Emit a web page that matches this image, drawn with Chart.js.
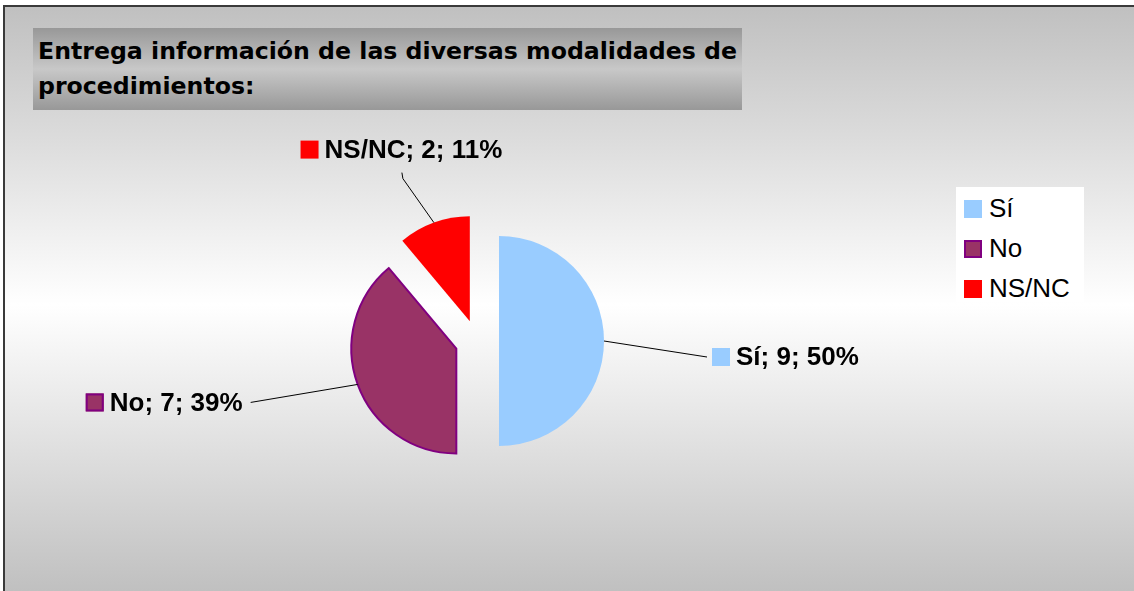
<!DOCTYPE html>
<html>
<head>
<meta charset="utf-8">
<script src="https://cdn.jsdelivr.net/npm/chart.js@4.4.0/dist/chart.umd.min.js"></script>
<style>
    html, body { margin: 0; padding: 0; background: #ffffff; overflow: hidden; }
    #marco {
        position: absolute; left: 3px; top: 5px; width: 1140px; height: 584px;
        border-top: 2px solid #3a3a3a; border-left: 2px solid #3a3a3a;
        background: linear-gradient(to bottom, #c0c0c0 0%, #ffffff 51%, #c0c0c0 100%);
    }
    #titulo {
        position: absolute; left: 33px; top: 28px; width: 709px; height: 82px;
        background: linear-gradient(to bottom, #989898 0%, #c8c8c8 50%, #989898 100%);
    }
    #titulo span {
        position: absolute; left: 5px; height: 30px; line-height: 30px;
        font: bold 23px "DejaVu Sans", sans-serif; color: #000;
        white-space: nowrap; transform-origin: 0 50%;
    }
    #leyenda {
        position: absolute; left: 956px; top: 187px; width: 128px; height: 115px;
        background: #ffffff;
    }
    .item { position: absolute; left: 8px; height: 30px; line-height: 30px;
        font: 26px "Liberation Sans", Arial, sans-serif; color: #000; white-space: nowrap; }
    .item i { display: inline-block; width: 18px; height: 18px; box-sizing: border-box;
        vertical-align: middle; margin: -3px 7px 0 0; }
    canvas { position: absolute; left: 0; top: 0; }
</style>
</head>
<body>
<div id="marco"></div>
<div id="titulo"></div>
<div id="leyenda"></div>
<canvas id="grafico" width="1134" height="591"></canvas>

<script>
// Datos del gráfico
var TITULO = ['Entrega información de las diversas modalidades de', 'procedimientos:'];
var CATEGORIAS = ['Sí', 'No', 'NS/NC'];
var RESPUESTAS = [9, 7, 2];

// Estilos
var COLORES = ['#99CCFF', '#993366', '#FF0000'];
var BORDES = ['#99CCFF', '#800080', '#FF0000'];
var GROSOR_BORDE = [0, 2, 0];
var SEPARACION = [22, 22, 21];
var POS_ETIQUETA = [[103, 16], [-107, 18], [-31, -44]];
var LADO_ETIQUETA = ['derecha', 'izquierda', 'arriba'];

/* Título en dos líneas, ajustado al ancho de la caja */
var caja = document.getElementById('titulo');
TITULO.forEach(function (linea, i) {
    var s = document.createElement('span');
    s.textContent = linea;
    s.style.top = (10 + i * 35) + 'px';
    caja.appendChild(s);
});
var ancho = caja.firstChild.getBoundingClientRect().width;
var escala = 699 / ancho;
Array.prototype.forEach.call(caja.children, function (s) {
    s.style.transform = 'scaleX(' + escala + ')';
});

/* Leyenda */
var leyenda = document.getElementById('leyenda');
CATEGORIAS.forEach(function (cat, i) {
    var d = document.createElement('div');
    d.className = 'item';
    d.style.top = (6 + i * 40) + 'px';
    var c = document.createElement('i');
    c.style.background = COLORES[i];
    if (GROSOR_BORDE[i] > 0) c.style.border = GROSOR_BORDE[i] + 'px solid ' + BORDES[i];
    d.appendChild(c);
    d.appendChild(document.createTextNode(cat));
    leyenda.appendChild(d);
});

/* Porciones separadas del centro */
var separarPorciones = {
    id: 'separar',
    beforeDatasetDraw: function (chart, args) {
        var ctx = chart.ctx;
        args.meta.data.forEach(function (arc, i) {
            var mid = (arc.startAngle + arc.endAngle) / 2;
            ctx.save();
            ctx.translate(Math.cos(mid) * SEPARACION[i], Math.sin(mid) * SEPARACION[i]);
            arc.draw(ctx);
            ctx.restore();
        });
        return false;
    }
};

/* Etiquetas con línea guía */
var etiquetas = {
    id: 'etiquetas',
    afterDatasetsDraw: function (chart) {
        var ctx = chart.ctx;
        var meta = chart.getDatasetMeta(0);
        var total = RESPUESTAS.reduce(function (a, b) { return a + b; }, 0);
        ctx.save();
        ctx.font = 'bold 26px "Liberation Sans", Arial, sans-serif';
        ctx.textBaseline = 'middle';
        meta.data.forEach(function (arc, i) {
            var mid = (arc.startAngle + arc.endAngle) / 2;
            var cx = arc.x + Math.cos(mid) * SEPARACION[i];
            var cy = arc.y + Math.sin(mid) * SEPARACION[i];
            var px = cx + Math.cos(mid) * arc.outerRadius;
            var py = cy + Math.sin(mid) * arc.outerRadius;
            var ex = px + POS_ETIQUETA[i][0];
            var ey = py + POS_ETIQUETA[i][1];

            ctx.strokeStyle = '#000';
            ctx.lineWidth = 1;
            ctx.beginPath();
            ctx.moveTo(px, py);
            ctx.lineTo(ex, ey);
            if (LADO_ETIQUETA[i] === 'arriba') ctx.lineTo(ex - 1, ey - 6);
            ctx.stroke();

            var texto = CATEGORIAS[i] + '; ' + RESPUESTAS[i] + '; ' + Math.round(RESPUESTAS[i] / total * 100) + '%';
            var w = ctx.measureText(texto).width;
            var x0, yc;
            if (LADO_ETIQUETA[i] === 'derecha') { x0 = ex + 5; yc = ey; }
            else if (LADO_ETIQUETA[i] === 'izquierda') { x0 = ex - 8 - w - 24; yc = ey; }
            else { x0 = ex - 1 - (w + 25) / 2; yc = ey - 29; }

            ctx.fillStyle = COLORES[i];
            ctx.fillRect(x0, yc - 9, 18, 18);
            if (GROSOR_BORDE[i] > 0) {
                ctx.strokeStyle = BORDES[i];
                ctx.lineWidth = GROSOR_BORDE[i];
                ctx.strokeRect(x0 + 1, yc - 8, 16, 16);
            }
            ctx.fillStyle = '#000';
            ctx.fillText(texto, x0 + 24, yc + 1);
        });
        ctx.restore();
    }
};

var ctx = document.getElementById('grafico').getContext('2d');
var grafico = new Chart(ctx, {
    type: 'pie',
    data: {
        labels: CATEGORIAS,
        datasets: [{
            data: RESPUESTAS,
            backgroundColor: COLORES,
            borderColor: BORDES,
            borderWidth: GROSOR_BORDE,
            borderJoinStyle: 'miter',
            radius: 105
        }]
    },
    options: {
        responsive: false,
        animation: false,
        events: [],
        layout: { padding: { left: 300, right: 480, top: 200, bottom: 109 } },
        plugins: {
            legend: { display: false },
            title: { display: false },
            tooltip: { enabled: false }
        }
    },
    plugins: [separarPorciones, etiquetas]
});
</script>
</body>
</html>
